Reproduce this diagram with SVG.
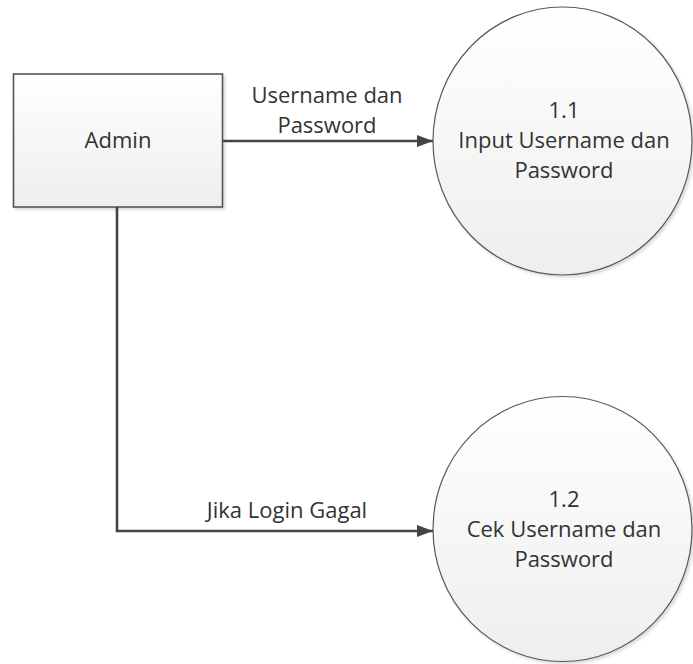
<svg xmlns="http://www.w3.org/2000/svg" width="693" height="664" viewBox="0 0 693 664">
  <style>
    .lbl { font-family: "Open Sans", "Liberation Sans", sans-serif; font-size: 22px; fill: #333333; text-anchor: middle; }
    .box { fill: url(#gBox); stroke: #555555; stroke-width: 1.6; }
    .proc { fill: url(#gCirc); stroke: #5a5a5a; stroke-width: 1.2; }
    .flow { fill: none; stroke: #444444; stroke-width: 2.6; }
  </style>
  <defs>
    <linearGradient id="gBox" x1="0" y1="0" x2="0" y2="1">
      <stop offset="0" stop-color="#ffffff"/>
      <stop offset="1" stop-color="#eeeeee"/>
    </linearGradient>
    <linearGradient id="gCirc" x1="0" y1="0" x2="0" y2="1">
      <stop offset="0" stop-color="#ffffff"/>
      <stop offset="1" stop-color="#eeeeee"/>
    </linearGradient>
    <filter id="sh" x="-10%" y="-10%" width="125%" height="125%">
      <feDropShadow dx="2" dy="2" stdDeviation="1.5" flood-color="#000000" flood-opacity="0.15"/>
    </filter>
    <marker id="arr" viewBox="0 0 16 12" refX="16" refY="6" markerWidth="16" markerHeight="12" markerUnits="userSpaceOnUse" orient="auto">
      <path d="M0,0 L16,6 L0,12 Z" fill="#444444"/>
    </marker>
  </defs>

  <g id="admin">
    <rect class="box" x="13.5" y="74" width="209" height="133" filter="url(#sh)"/>
    <text class="lbl" x="118" y="148">Admin</text>
  </g>

  <g id="p1-1">
    <ellipse class="proc" cx="562.5" cy="141" rx="129.5" ry="134" filter="url(#sh)"/>
    <text class="lbl" x="564" y="118">1.1</text>
    <text class="lbl" x="564" y="148">Input Username dan</text>
    <text class="lbl" x="564" y="178">Password</text>
  </g>

  <g id="p1-2">
    <ellipse class="proc" cx="562.5" cy="529" rx="129.5" ry="132.5" filter="url(#sh)"/>
    <text class="lbl" x="564" y="507">1.2</text>
    <text class="lbl" x="564" y="537">Cek Username dan</text>
    <text class="lbl" x="564" y="567">Password</text>
  </g>

  <g id="connectors">
    <path class="flow" d="M223,141 L433,141" marker-end="url(#arr)"/>
    <text class="lbl" x="327" y="103">Username dan</text>
    <text class="lbl" x="327" y="133">Password</text>
    <path class="flow" d="M117,207 L117,531 L433,531" marker-end="url(#arr)"/>
    <text class="lbl" x="287" y="518">Jika Login Gagal</text>
  </g>
</svg>
